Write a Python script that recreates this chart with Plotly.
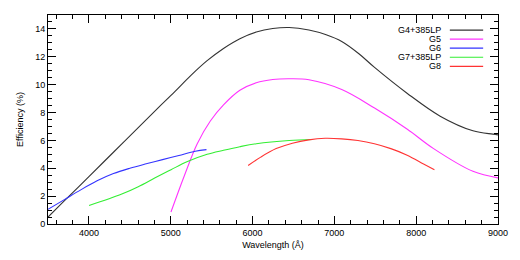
import plotly.graph_objects as go

names = ["G4+385LP", "G5", "G6", "G7+385LP", "G8"]
colors = ["#333333", "#ff33ff", "#3333ff", "#33ee33", "#ff3333"]

g4_x = [3500, 3680, 4000, 4300, 4603, 4843, 5050, 5244, 5445, 5645, 5845, 6046, 6247, 6447, 6689, 6900, 7090, 7300, 7491, 7892, 8293, 8694, 8935, 9000]
g4_y = [0.5, 1.55, 3.4, 5.15, 6.92, 8.32, 9.5, 10.65, 11.72, 12.6, 13.3, 13.78, 14.03, 14.1, 13.92, 13.58, 13.1, 12.22, 11.24, 9.37, 7.74, 6.69, 6.45, 6.4]

g5_x = [5003, 5164, 5324, 5484, 5645, 5845, 6046, 6247, 6447, 6689, 7090, 7491, 7892, 8213, 8694, 9000]
g5_y = [0.86, 3.43, 5.76, 7.39, 8.55, 9.6, 10.14, 10.37, 10.42, 10.35, 9.65, 8.32, 6.8, 5.41, 3.78, 3.31]

g6_x = [3500, 3700, 3900, 4100, 4300, 4500, 4700, 4900, 5100, 5300, 5437]
g6_y = [1.05, 1.75, 2.45, 3.1, 3.62, 4.0, 4.32, 4.62, 4.92, 5.22, 5.34]

g7_x = [4002, 4402, 4603, 4804, 5004, 5205, 5445, 5645, 5845, 6046, 6447, 6730]
g7_y = [1.33, 2.15, 2.68, 3.3, 3.9, 4.48, 5.0, 5.29, 5.55, 5.76, 5.99, 6.06]

g8_x = [5946, 6100, 6289, 6487, 6687, 6888, 7089, 7288, 7489, 7690, 7890, 8090, 8223]
g8_y = [4.2, 4.8, 5.41, 5.8, 6.04, 6.15, 6.11, 5.99, 5.76, 5.41, 4.94, 4.31, 3.89]

series = [(g4_x, g4_y), (g5_x, g5_y), (g6_x, g6_y), (g7_x, g7_y), (g8_x, g8_y)]

x_range = [3500, 9000]
y_range = [0, 15]

FONT = "Liberation Sans"

fig = go.Figure()
for (xs, ys), name, col in zip(series, names, colors):
    fig.add_trace(go.Scatter(x=xs, y=ys, mode="lines", name=name,
                             line=dict(color=col, width=1.1, shape="spline", smoothing=1.0),
                             showlegend=False, hoverinfo="skip"))

# empty trace to anchor the mirrored (top/right) tick axes
fig.add_trace(go.Scatter(x=[], y=[], xaxis="x2", yaxis="y2", showlegend=False, hoverinfo="skip"))

# custom legend: text right-aligned, line sample to the right
leg_y0 = 0.928
leg_dy = 0.0434
for i, (name, col) in enumerate(zip(names, colors)):
    yy = leg_y0 - i * leg_dy
    fig.add_annotation(x=0.878, y=yy, xref="paper", yref="paper", text=name,
                       showarrow=False, xanchor="right", yanchor="middle",
                       font=dict(family=FONT, size=9, color="#000000"))
    fig.add_shape(type="line", xref="paper", yref="paper",
                  x0=0.893, x1=0.967, y0=yy, y1=yy,
                  line=dict(color=col, width=1.2))

tick_common = dict(ticks="inside", ticklen=8, tickcolor="#000000", tickwidth=1,
                   showgrid=False, zeroline=False)
x_minor = dict(dtick=200, ticks="inside", ticklen=4, tickcolor="#000000", showgrid=False)
y_minor = dict(dtick=0.5, ticks="inside", ticklen=4, tickcolor="#000000", showgrid=False)

fig.update_layout(
    xaxis=dict(range=x_range, dtick=1000, tick0=4000, minor=x_minor,
               showline=True, linecolor="#000000", linewidth=1, mirror=True,
               tickfont=dict(family=FONT, size=9, color="#000000"),
               title=dict(text="Wavelength (Å)", font=dict(family=FONT, size=9, color="#000000"), standoff=4),
               **tick_common),
    yaxis=dict(range=y_range, dtick=2, tick0=0, minor=y_minor,
               showline=True, linecolor="#000000", linewidth=1, mirror=True,
               tickfont=dict(family=FONT, size=9, color="#000000"),
               title=dict(text="Efficiency (%)", font=dict(family=FONT, size=9, color="#000000"), standoff=10),
               **tick_common),
    xaxis2=dict(range=x_range, dtick=1000, tick0=4000, minor=x_minor, overlaying="x",
                side="top", anchor="y2", showticklabels=False, showline=False, **tick_common),
    yaxis2=dict(range=y_range, dtick=2, tick0=0, minor=y_minor, overlaying="y",
                side="right", anchor="x2", showticklabels=False, showline=False, **tick_common),
    width=520, height=260, margin=dict(l=48, r=14, t=15, b=31),
    plot_bgcolor="#ffffff", paper_bgcolor="#ffffff",
    font=dict(family=FONT, size=9, color="#000000"),
)

fig.write_html("out.html", config={"displayModeBar": False},
               post_script="document.body.style.margin='0';document.body.style.overflow='hidden';")
